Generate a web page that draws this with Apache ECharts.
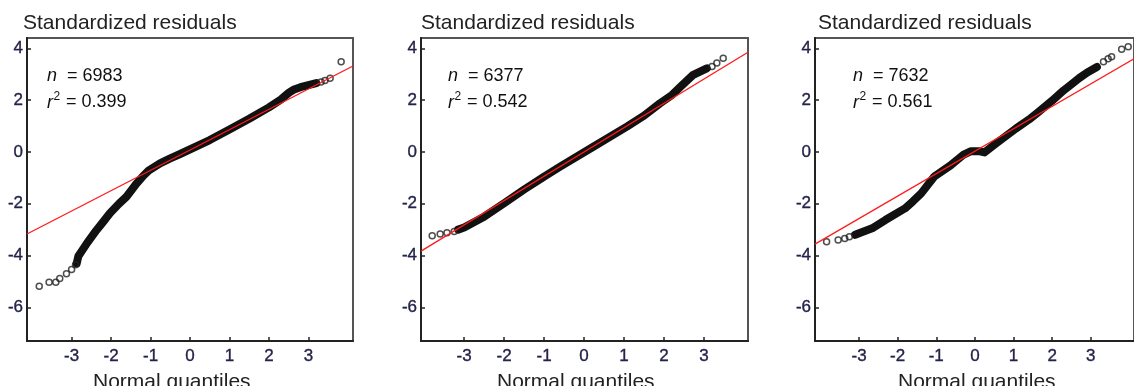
<!DOCTYPE html>
<html><head><meta charset="utf-8">
<script src="https://cdn.jsdelivr.net/npm/echarts@6/dist/echarts.min.js"></script>
<style>html,body{margin:0;padding:0;background:#fff;overflow:hidden}#c{width:1134px;height:386px}</style>
</head><body><div id="c"></div>
<script>
// tick labels
const xTicks = [-3, -2, -1, 0, 1, 2, 3];
const yTicks = [-6, -4, -2, 0, 2, 4];
const yRange = [-7.3, 4.4];
const xRange1 = [-4.13, 4.13];
const xRange2 = [-4.08, 4.10];
const xRange3 = [-4.14, 4.12];
const sampleN = [6983, 6377, 7632];
const sampleR2 = ['0.399', '0.542', '0.561'];

// panel 1
const fit1 = [[-4.13, -3.17], [4.13, 3.32]];
const tail1Low = [[-3.82, -5.19], [-3.57, -5.03], [-3.40, -5.03], [-3.30, -4.89], [-3.13, -4.70], [-3.00, -4.54], [-2.90, -4.36]];
const band1 = [[-2.87, -4.30], [-2.83, -4.03], [-2.60, -3.50], [-2.37, -3.02], [-2.20, -2.70], [-2.03, -2.37], [-1.80, -2.00], [-1.61, -1.73], [-1.35, -1.21], [-1.20, -0.95], [-1.05, -0.72], [-0.76, -0.44], [-0.50, -0.25], [-0.25, -0.08], [0.50, 0.46], [1.00, 0.87], [1.50, 1.28], [2.00, 1.72], [2.30, 2.02], [2.50, 2.28], [2.62, 2.40], [2.80, 2.50], [3.00, 2.58], [3.20, 2.66]];
const tail1High = [[3.32, 2.70], [3.42, 2.76], [3.55, 2.85], [3.83, 3.48]];

// panel 2
const fit2 = [[-4.08, -3.83], [4.10, 3.85]];
const tail2Low = [[-3.80, -3.24], [-3.60, -3.17], [-3.43, -3.12], [-3.25, -3.07]];
const band2 = [[-3.15, -3.00], [-3.00, -2.92], [-2.50, -2.50], [-2.00, -1.98], [-1.50, -1.45], [-1.00, -0.95], [-0.60, -0.57], [0.23, 0.20], [1.07, 0.98], [1.50, 1.40], [1.90, 1.88], [2.20, 2.20], [2.40, 2.50], [2.73, 2.98], [3.07, 3.23]];
const tail2High = [[3.20, 3.30], [3.32, 3.43], [3.48, 3.62]];

// panel 3
const fit3 = [[-4.14, -3.56], [4.12, 3.60]];
const tail3Low = [[-3.84, -3.47], [-3.54, -3.40], [-3.37, -3.34], [-3.25, -3.27]];
const band3 = [[-3.10, -3.20], [-3.00, -3.14], [-2.66, -2.95], [-2.32, -2.63], [-1.81, -2.18], [-1.60, -1.90], [-1.39, -1.60], [-1.05, -0.95], [-0.63, -0.52], [-0.29, -0.10], [-0.10, 0.03], [0.10, 0.03], [0.25, -0.02], [0.55, 0.33], [1.06, 0.90], [1.40, 1.25], [1.65, 1.55], [2.00, 1.98], [2.30, 2.38], [2.49, 2.60], [2.70, 2.85], [2.91, 3.07], [3.16, 3.28]];
const tail3High = [[3.33, 3.48], [3.45, 3.60], [3.54, 3.68], [3.80, 3.97], [3.97, 4.06]];

const panels = [
  {xr: xRange1, fit: fit1, band: band1, tails: tail1Low.concat(tail1High)},
  {xr: xRange2, fit: fit2, band: band2, tails: tail2Low.concat(tail2High)},
  {xr: xRange3, fit: fit3, band: band3, tails: tail3Low.concat(tail3High)}
];
const gridBoxes = [
  {left: 27, top: 38, width: 326, height: 303},
  {left: 421, top: 38, width: 327, height: 303},
  {left: 815, top: 38, width: 326, height: 303}
];
const titleLeft = [23, 421, 818];
const noteLeft = [47, 448, 853];
const xNameLeft = [93, 497, 898];

const FONT = "'Liberation Sans', Arial, sans-serif";
const tickColor = '#23234a';

const option = {
  backgroundColor: '#fff',
  animation: false,
  grid: gridBoxes.map(g => Object.assign({show: true, borderColor: '#555', borderWidth: 2, backgroundColor: '#fff', containLabel: false}, g)),
  xAxis: panels.map((p, i) => ({
    type: 'value', gridIndex: i, min: p.xr[0], max: p.xr[1],
    axisLine: {show: true, onZero: false, lineStyle: {color: '#222', width: 2}},
    axisTick: {show: true, inside: true, length: 4, lineStyle: {color: '#222', width: 1.5}, customValues: xTicks},
    axisLabel: {show: true, margin: 7, fontSize: 17, color: tickColor, fontFamily: FONT, textBorderColor: tickColor, textBorderWidth: 0.35, customValues: xTicks},
    splitLine: {show: false}
  })),
  yAxis: panels.map((p, i) => ({
    type: 'value', gridIndex: i, min: yRange[0], max: yRange[1],
    axisLine: {show: true, onZero: false, lineStyle: {color: '#222', width: 2}},
    axisTick: {show: true, inside: true, length: 4, lineStyle: {color: '#222', width: 1.5}, customValues: yTicks},
    axisLabel: {show: true, margin: 4, fontSize: 17, color: tickColor, fontFamily: FONT, textBorderColor: tickColor, textBorderWidth: 0.35, customValues: yTicks},
    splitLine: {show: false}
  })),
  series: [],
  graphic: []
};

panels.forEach((p, i) => {
  option.series.push({
    type: 'line', xAxisIndex: i, yAxisIndex: i, data: p.band, symbol: 'none',
    lineStyle: {color: '#111', width: 8, cap: 'round', join: 'round'}, z: 2, silent: true
  });
  option.series.push({
    type: 'scatter', xAxisIndex: i, yAxisIndex: i, data: p.tails, symbol: 'circle', symbolSize: 6,
    itemStyle: {color: 'rgba(0,0,0,0)', borderColor: '#222', borderWidth: 1.5}, z: 3, silent: true
  });
  option.series.push({
    type: 'line', xAxisIndex: i, yAxisIndex: i, data: p.fit, symbol: 'none',
    lineStyle: {color: '#ff1a1a', width: 1.3}, z: 4, silent: true
  });
  option.graphic.push({
    type: 'text', left: titleLeft[i], top: 13,
    style: {text: 'Standardized residuals', fontSize: 21, fontFamily: FONT, fill: '#222'}
  });
  option.graphic.push({
    type: 'text', left: xNameLeft[i], top: 372,
    style: {text: 'Normal quantiles', fontSize: 21, fontFamily: FONT, fill: '#222'}
  });
  option.graphic.push({
    type: 'text', left: noteLeft[i], top: 67,
    style: {
      text: '{i|n}{t|  = ' + sampleN[i] + '}',
      rich: {
        i: {fontSize: 18, fontStyle: 'italic', fontFamily: FONT, fill: '#111', lineHeight: 18},
        t: {fontSize: 18, fontFamily: FONT, fill: '#111', lineHeight: 18}
      }
    }
  });
  option.graphic.push({
    type: 'text', left: noteLeft[i], top: 93.5,
    style: {
      text: '{i|r}{g|}{t| = ' + sampleR2[i] + '}',
      rich: {
        i: {fontSize: 18, fontStyle: 'italic', fontFamily: FONT, fill: '#111', lineHeight: 18},
        g: {width: 8, lineHeight: 18},
        t: {fontSize: 18, fontFamily: FONT, fill: '#111', lineHeight: 18}
      }
    }
  });
  option.graphic.push({
    type: 'text', left: noteLeft[i] + 6.5, top: 91,
    style: {text: '2', fontSize: 12, fontFamily: FONT, fill: '#111'}
  });
});

const chart = echarts.init(document.getElementById('c'), null, {renderer: 'canvas'});
chart.setOption(option);
</script>
</body></html>
